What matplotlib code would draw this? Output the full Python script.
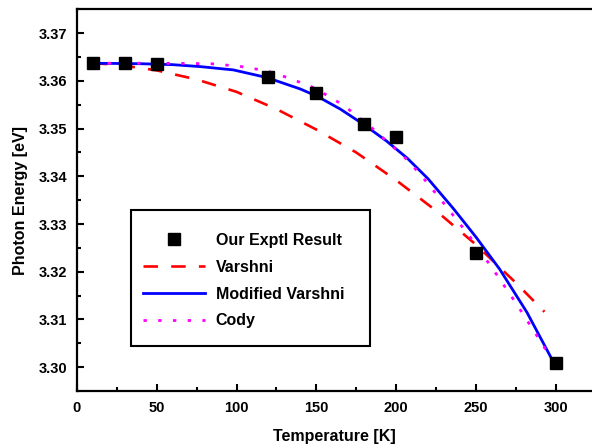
import matplotlib
matplotlib.use("Agg")
import matplotlib.pyplot as plt
from matplotlib.patches import Rectangle
from matplotlib.ticker import MultipleLocator, FormatStrFormatter

plt.rcParams['font.family'] = ['Liberation Sans', 'DejaVu Sans']
plt.rcParams['font.weight'] = 'bold'

# Experimental data
exp_T = [10, 30, 50, 120, 150, 180, 200, 250, 300]
exp_E = [3.3637, 3.3637, 3.3636, 3.3609, 3.3574, 3.3510, 3.3483, 3.3239, 3.3008]

# Varshni fit
varshni_T = [10, 25, 50, 75, 100, 125, 150, 175, 200, 225, 250, 275, 293]
varshni_E = [3.3637, 3.3634, 3.3622, 3.3603, 3.3577, 3.3541, 3.3498, 3.3450,
             3.3392, 3.3328, 3.3257, 3.3177, 3.3116]

# Modified Varshni fit
modv_T = [10, 40, 60, 77, 98, 119, 140, 151, 165, 180, 194, 207, 220, 236,
          250, 265, 282, 300]
modv_E = [3.3637, 3.3636, 3.3634, 3.3630, 3.3623, 3.3607, 3.3583, 3.3567,
          3.3541, 3.3508, 3.3474, 3.3438, 3.3395, 3.3332, 3.3273, 3.3205,
          3.3115, 3.3002]

# Cody fit
cody_T = [10, 50, 84, 94, 103, 112, 121, 130, 139, 149, 158, 167, 176, 186,
          194, 205, 215, 230, 245, 260, 275, 290, 300]
cody_E = [3.3637, 3.3637, 3.3636, 3.3633, 3.3630, 3.3625, 3.3619, 3.3609,
          3.3598, 3.3585, 3.3567, 3.3549, 3.3525, 3.3498, 3.3474, 3.3441,
          3.3405, 3.3343, 3.3279, 3.3209, 3.3135, 3.3057, 3.3004]

fig = plt.figure(figsize=(5.92, 4.48), dpi=100)
ax = fig.add_axes([0.130, 0.1272, 0.870, 0.852])

ax.plot(exp_T, exp_E, 's', color='black', markersize=8.3, label='Our Exptl Result', zorder=5)
ax.plot(varshni_T, varshni_E, color='#ff0000', lw=1.9, linestyle=(0, (5.5, 5)),
        label='Varshni', dash_joinstyle='round')
ax.plot(modv_T, modv_E, color='#0000ff', lw=2.0, label='Modified Varshni',
        solid_joinstyle='round')
ax.plot(cody_T, cody_E, color='#ff00ff', lw=2.0, linestyle=(0, (1.2, 4.1)),
        label='Cody', dash_joinstyle='round')

ax.set_xlim(0, 322.8)
ax.set_ylim(3.295, 3.375)
ax.xaxis.set_major_locator(MultipleLocator(50))
ax.xaxis.set_minor_locator(MultipleLocator(25))
ax.yaxis.set_major_locator(MultipleLocator(0.01))
ax.yaxis.set_minor_locator(MultipleLocator(0.005))
ax.yaxis.set_major_formatter(FormatStrFormatter('%.2f'))

for s in ['left', 'bottom', 'top']:
    ax.spines[s].set_linewidth(1.6)
ax.spines['right'].set_visible(False)

ax.tick_params(which='both', direction='in', width=1.5, labelsize=10.5, top=False, right=False)
ax.tick_params(which='major', length=5, pad=7)
ax.tick_params(which='minor', length=3)
for lab in ax.get_xticklabels() + ax.get_yticklabels():
    lab.set_fontweight('bold')

ax.set_xlabel('Temperature [K]', fontsize=11.5, fontweight='bold', labelpad=10)
ax.set_ylabel('Photon Energy [eV]', fontsize=11.5, fontweight='bold', labelpad=8)

# legend frame
ax.add_patch(Rectangle((0.104, 0.119), 0.465, 0.355, transform=ax.transAxes,
                       fill=True, facecolor='white', edgecolor='black', lw=1.5, zorder=6))
leg = ax.legend(loc='upper left', bbox_to_anchor=(0.128, 0.414), frameon=False,
                numpoints=1, handlelength=3.9, handletextpad=0.65, borderpad=0,
                borderaxespad=0, labelspacing=0.74,
                prop={'size': 11.5, 'weight': 'bold'})
leg.set_zorder(7)

fig.savefig('out.png', dpi=100)
